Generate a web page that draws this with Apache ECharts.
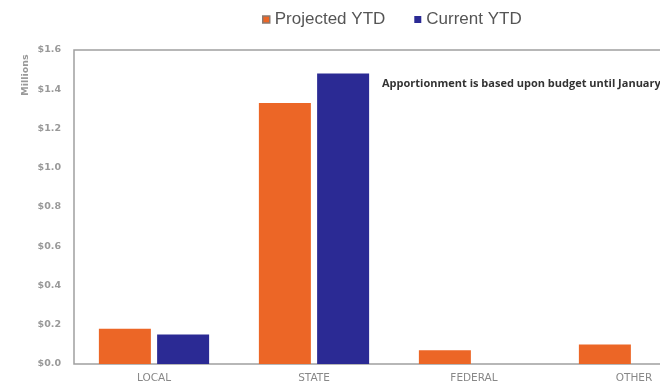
<!DOCTYPE html>
<html>
<head>
<meta charset="utf-8">
<script src="https://cdn.jsdelivr.net/npm/echarts@6/dist/echarts.min.js"></script>
<style>
  html, body { margin: 0; padding: 0; background: #ffffff; overflow: hidden; }
  #wrap { width: 660px; height: 385px; overflow: hidden; }
  /* plot runs past the right edge of the visible area */
  #chart { width: 714px; height: 385px; }
</style>
</head>
<body>
<div id="wrap"><div id="chart"></div></div>
<script>
// Revenue by source, in millions of dollars
const categories = ['LOCAL', 'STATE', 'FEDERAL', 'OTHER'];
const projectedYTD = [0.18, 1.33, 0.07, 0.10];
const currentYTD = [0.15, 1.48, 0, 0];
const seriesNames = ['Projected YTD', 'Current YTD'];
const noteText = 'Apportionment is based upon budget until January';

const ORANGE = '#EC6626';
const BLUE = '#2B2A94';

const chart = echarts.init(document.getElementById('chart'), null, { renderer: 'canvas' });

chart.setOption({
  animation: false,
  backgroundColor: '#ffffff',
  legend: {
    left: 257,
    top: 6,
    icon: 'rect',
    itemWidth: 7,
    itemHeight: 7,
    itemGap: 29,
    textStyle: { fontFamily: 'Liberation Sans', fontSize: 17, color: '#555' },
    data: [
      { name: seriesNames[0], itemStyle: { color: ORANGE, borderColor: '#8a7a70', borderWidth: 1.5 } },
      { name: seriesNames[1], itemStyle: { color: BLUE } }
    ]
  },
  grid: {
    left: 74,
    top: 50,
    right: 0,
    bottom: 21,
    show: true,
    borderColor: '#a0a0a0',
    borderWidth: 1.5,
    backgroundColor: 'transparent'
  },
  xAxis: {
    type: 'category',
    data: categories,
    axisLine: { show: false },
    axisTick: { show: false },
    axisLabel: {
      margin: 9,
      fontFamily: 'DejaVu Sans',
      fontSize: 10.5,
      color: '#888'
    }
  },
  yAxis: {
    type: 'value',
    min: 0,
    max: 1.6,
    interval: 0.2,
    axisLine: { show: false },
    axisTick: { show: false },
    splitLine: { show: false },
    axisLabel: {
      margin: 13,
      fontFamily: 'DejaVu Sans',
      fontWeight: 'bold',
      fontSize: 9.5,
      color: '#999',
      formatter: v => '$' + v.toFixed(1)
    }
  },
  graphic: [
    {
      type: 'text',
      x: 26,
      y: 75,
      rotation: Math.PI / 2,
      style: {
        text: 'Millions',
        fontFamily: 'DejaVu Sans',
        fontWeight: 'bold',
        fontSize: 9.5,
        fill: '#999',
        textAlign: 'center',
        textVerticalAlign: 'middle'
      }
    },
    {
      type: 'text',
      x: 382,
      y: 84,
      style: {
        text: noteText,
        fontFamily: 'Open Sans',
        fontWeight: 'bold',
        fontSize: 11,
        fill: '#333',
        textAlign: 'left',
        textVerticalAlign: 'middle'
      }
    }
  ],
  series: [
    {
      name: seriesNames[0],
      type: 'bar',
      data: projectedYTD,
      barWidth: 52,
      barGap: '12%',
      itemStyle: { color: ORANGE }
    },
    {
      name: seriesNames[1],
      type: 'bar',
      data: currentYTD,
      barWidth: 52,
      itemStyle: { color: BLUE }
    }
  ]
});
</script>
</body>
</html>
